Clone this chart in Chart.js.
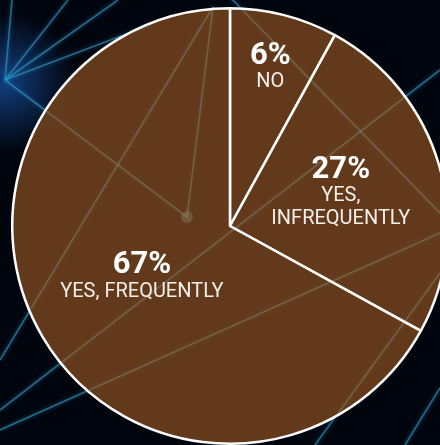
<!DOCTYPE html>
<html>
<head>
<meta charset="utf-8">
<script src="https://cdn.jsdelivr.net/npm/chart.js@4.4.1/dist/chart.umd.min.js"></script>
<style>
    html, body { margin: 0; padding: 0; width: 440px; height: 445px; overflow: hidden; background: #01050d; }
    canvas { position: absolute; left: 0; top: 0; }
</style>
</head>
<body>
<canvas id="bg" width="440" height="445"></canvas>
<canvas id="pieChart" width="460" height="452"></canvas>
<script>
// values as drawn (slice angles), labels as printed
const categories = ['NO', ['YES,', 'INFREQUENTLY'], 'YES, FREQUENTLY'];
const sliceValues = [8, 25, 67];
const percentLabels = ['6%', '27%', '67%'];

// decorative network lines of the backdrop
const netLines = [
    [5, 80, 12, 0], [5, 80, 68, 0], [5, 80, 118, 0], [5, 80, 150, 25],
    [5, 80, 187, 217], [187, 217, 213, 7], [213, 7, 0, 360],
    [225, -8, 440, 213], [0, 410, 440, 70], [0, 430, 440, 233],
    [440, 273, 315, 445], [440, 388, 405, 445]
];

function strokeLines(c) {
    netLines.forEach(l => {
        c.beginPath();
        c.moveTo(l[0], l[1]);
        c.lineTo(l[2], l[3]);
        c.stroke();
    });
}

function drawBackground() {
    const c = document.getElementById('bg').getContext('2d');
    c.fillStyle = '#01050d';
    c.fillRect(0, 0, 440, 445);

    const glow = c.createRadialGradient(5, 82, 0, 5, 82, 70);
    glow.addColorStop(0, 'rgba(30, 100, 200, 0.6)');
    glow.addColorStop(1, 'rgba(30, 100, 200, 0)');
    c.fillStyle = glow;
    c.fillRect(0, 0, 120, 200);

    c.strokeStyle = 'rgba(50, 150, 190, 0.65)';
    c.lineWidth = 1.6;
    c.shadowColor = 'rgba(40, 140, 200, 0.8)';
    c.shadowBlur = 4;
    strokeLines(c);
    c.shadowBlur = 0;
}

// faint copy of the lines showing through the slices
const overlayLines = {
    id: 'overlayLines',
    afterDatasetsDraw(chart) {
        const c = chart.ctx;
        const arc = chart.getDatasetMeta(0).data[0];
        c.save();
        c.beginPath();
        c.arc(arc.x, arc.y, arc.outerRadius - 2, 0, Math.PI * 2);
        c.clip();
        c.strokeStyle = 'rgba(150, 175, 140, 0.22)';
        c.lineWidth = 1.8;
        strokeLines(c);
        c.fillStyle = 'rgba(160, 175, 150, 0.25)';
        c.beginPath();
        c.arc(187, 217, 6, 0, Math.PI * 2);
        c.fill();
        c.restore();
    }
};

// percentage + category text placed along each slice's mid angle
const sliceLabels = {
    id: 'sliceLabels',
    afterDatasetsDraw(chart, args, opts) {
        const ctx = chart.ctx;
        const arcs = chart.getDatasetMeta(0).data;
        ctx.save();
        ctx.textAlign = 'center';
        ctx.textBaseline = 'middle';
        arcs.forEach((arc, i) => {
            const mid = (arc.startAngle + arc.endAngle) / 2;
            const r = arc.outerRadius * opts.radius[i];
            const cx = arc.x + Math.cos(mid) * r;
            const cy = arc.y + Math.sin(mid) * r;
            const sub = [].concat(chart.data.labels[i]);
            const height = opts.gap + opts.lineHeight * (sub.length - 1);
            let y = cy - height / 2;

            ctx.fillStyle = '#ffffff';
            ctx.font = 'bold 31px Roboto';
            ctx.fillText(percentLabels[i], cx, y + 1);
            y += opts.gap;
            ctx.fillStyle = '#f4efea';
            ctx.font = '20px Roboto';
            sub.forEach(line => {
                ctx.fillText(line, cx, y);
                y += opts.lineHeight;
            });
        });
        ctx.restore();
    }
};

function initializePieChart() {
    drawBackground();
    const ctx = document.getElementById('pieChart').getContext('2d');
    new Chart(ctx, {
        type: 'pie',
        data: {
            labels: categories,
            datasets: [{
                data: sliceValues,
                backgroundColor: 'rgba(118, 68, 30, 0.84)',
                borderColor: '#ffffff',
                borderWidth: 2.5
            }]
        },
        options: {
            responsive: false,
            animation: false,
            layout: { padding: { left: 11, right: 11, top: 7, bottom: 7 } },
            plugins: {
                legend: { display: false },
                tooltip: { enabled: false },
                sliceLabels: { radius: [0.745, 0.53, 0.47], gap: 27, lineHeight: 22.5 }
            }
        },
        plugins: [overlayLines, sliceLabels]
    });
}

document.addEventListener('DOMContentLoaded', initializePieChart);
</script>
</body>
</html>
